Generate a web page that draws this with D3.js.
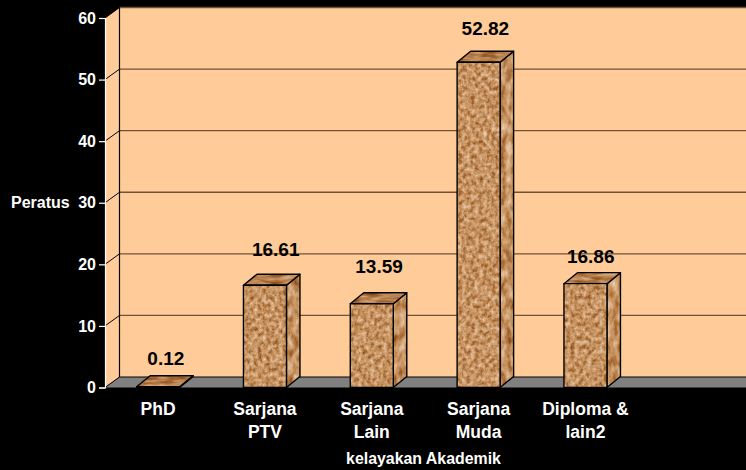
<!DOCTYPE html>
<html>
<head>
<meta charset="utf-8">
<script src="https://cdn.jsdelivr.net/npm/d3@7"></script>
<style>
  html, body { margin: 0; padding: 0; background: #000; overflow: hidden; }
  text { font-family: "Liberation Sans", Arial, sans-serif; font-weight: bold; }
</style>
</head>
<body>
<svg id="chart" width="746" height="470"></svg>
<script>
// values
var categories = ["PhD", "Sarjana PTV", "Sarjana Lain", "Sarjana Muda", "Diploma & lain2", ""];
var categoryLines = [["PhD"], ["Sarjana", "PTV"], ["Sarjana", "Lain"], ["Sarjana", "Muda"], ["Diploma &", "lain2"]];
var values = [0.12, 16.61, 13.59, 52.82, 16.86];
var valueLabels = ["0.12", "16.61", "13.59", "52.82", "16.86"];
var yTicks = [0, 10, 20, 30, 40, 50, 60];

var width = 746, height = 470;
var left = 105, right = 746, zero = 387.5, top60 = 18;
var wallDx = 14.5, wallDy = -10.5;   // how far the back wall sits behind the front
var barDx = 13.5, barDy = -11;
var barW = 43;

var svg = d3.select("#chart");

var x = d3.scaleBand().domain(categories).range([left - 0.3, right - 0.3]);
var y = d3.scaleLinear().domain([0, 60]).range([zero, top60]);

var line = d3.line();
function poly(pts) { return line(pts) + "Z"; }

// speckled cork look for the bars
var defs = svg.append("defs");
function corkFilter(id, freq, seed, r, g, b) {
  var f = defs.append("filter").attr("id", id)
    .attr("x", 0).attr("y", 0).attr("width", 1).attr("height", 1)
    .attr("color-interpolation-filters", "sRGB");
  f.append("feTurbulence").attr("type", "fractalNoise")
    .attr("baseFrequency", freq).attr("numOctaves", 3).attr("seed", seed).attr("result", "n");
  f.append("feColorMatrix").attr("in", "n").attr("type", "matrix")
    .attr("values", "1 0 0 0 0  1 0 0 0 0  1 0 0 0 0  0 0 0 0 1").attr("result", "g");
  var t = f.append("feComponentTransfer").attr("in", "g").attr("result", "c");
  t.append("feFuncR").attr("type", "table").attr("tableValues", r);
  t.append("feFuncG").attr("type", "table").attr("tableValues", g);
  t.append("feFuncB").attr("type", "table").attr("tableValues", b);
  f.append("feComposite").attr("in", "c").attr("in2", "SourceAlpha").attr("operator", "in");
}
var corkR = "0.44 0.56 0.68 0.78 0.85 0.91 0.97",
    corkG = "0.24 0.33 0.45 0.58 0.68 0.78 0.88",
    corkB = "0.08 0.14 0.24 0.38 0.52 0.66 0.78";
corkFilter("corkFront", "0.24 0.22", 4, corkR, corkG, corkB);
corkFilter("corkSide", "0.16 0.09", 9, corkR, corkG, corkB);
corkFilter("corkTop", "0.06 0.26", 15, "0.40 0.50 0.62 0.72 0.80 0.86 0.92", "0.22 0.28 0.38 0.50 0.60 0.70 0.80", "0.06 0.10 0.18 0.30 0.42 0.54 0.66");

// walls and floor
var wallTop = y(60) + wallDy, wallBottom = zero + wallDy;
svg.append("rect").attr("x", left + wallDx).attr("y", wallTop)
  .attr("width", right - left - wallDx).attr("height", wallBottom - wallTop).attr("fill", "#ffcc99");
svg.append("path")
  .attr("d", poly([[left, y(60)], [left + wallDx, wallTop], [left + wallDx, wallBottom], [left, zero]]))
  .attr("fill", "#ffcc99");
svg.append("path")
  .attr("d", poly([[left, zero], [left + wallDx, wallBottom], [right, wallBottom], [right, zero]]))
  .attr("fill", "#808080");

// gridlines, back wall and side wall
yTicks.forEach(function(t) {
  var yy = y(t);
  svg.append("line")
    .attr("x1", left + wallDx).attr("x2", right)
    .attr("y1", yy + wallDy).attr("y2", yy + wallDy)
    .attr("stroke", t == 0 ? "#000" : "#6e5338").attr("stroke-width", t == 0 ? 1.2 : 1.3);
  svg.append("line")
    .attr("x1", left).attr("x2", left + wallDx)
    .attr("y1", yy).attr("y2", yy + wallDy)
    .attr("stroke", "#000").attr("stroke-width", 1);
});
svg.append("line")
  .attr("x1", left + wallDx).attr("x2", left + wallDx)
  .attr("y1", wallTop).attr("y2", wallBottom)
  .attr("stroke", "#000").attr("stroke-width", 1.2);

// bars
var bars = svg.selectAll("g.bar").data(values).enter().append("g").attr("class", "bar");
function barBox(d, i) {
  var x0 = x(categories[i]) + (x.bandwidth() - barW) / 2;
  return { x0: x0, x1: x0 + barW, top: y(d), bottom: zero };
}
function frontFace(d, i) {
  var b = barBox(d, i);
  return poly([[b.x0, b.top], [b.x1, b.top], [b.x1, b.bottom], [b.x0, b.bottom]]);
}
function sideFace(d, i) {
  var b = barBox(d, i);
  return poly([[b.x1, b.top], [b.x1 + barDx, b.top + barDy], [b.x1 + barDx, b.bottom + barDy], [b.x1, b.bottom]]);
}
function topFace(d, i) {
  var b = barBox(d, i);
  return poly([[b.x0, b.top], [b.x0 + barDx, b.top + barDy], [b.x1 + barDx, b.top + barDy], [b.x1, b.top]]);
}
[["corkSide", sideFace], ["corkTop", topFace], ["corkFront", frontFace]].forEach(function(face) {
  bars.append("path").attr("d", face[1]).attr("fill", "#000").attr("filter", "url(#" + face[0] + ")");
  bars.append("path").attr("d", face[1]).attr("fill", "none")
    .attr("stroke", "#000").attr("stroke-width", 1.4).attr("stroke-linejoin", "round");
});

// y axis
var yAxis = d3.axisLeft(y).tickValues(yTicks).tickSize(6).tickPadding(3);
var yG = svg.append("g").attr("transform", "translate(" + left + ",0)").call(yAxis);
yG.selectAll(".domain").attr("stroke", "#fff").attr("stroke-width", 1.2);
yG.selectAll("line").attr("stroke", "#fff").attr("stroke-width", 1.2);
yG.selectAll("text").attr("fill", "#fff").style("font-size", "16px")
  .style("font-family", '"Liberation Sans", Arial, sans-serif').style("font-weight", "bold");

// category labels
categoryLines.forEach(function(lines, i) {
  var t = svg.append("text")
    .attr("x", x(categories[i]) + x.bandwidth() / 2)
    .attr("y", 415)
    .attr("text-anchor", "middle").attr("fill", "#fff").style("font-size", "17.5px");
  lines.forEach(function(s, j) {
    t.append("tspan").attr("x", t.attr("x")).attr("dy", j ? 23 : 0).text(s);
  });
});

// value labels: hand placed in the original, so a lift and a shift per bar
var labelLift = [22, 29, 31, 27, 21];
var labelShift = [1, 4, 0.5, 0, -1.5];
svg.selectAll("text.val").data(values).enter().append("text").attr("class", "val")
  .attr("x", function(d, i) { return x(categories[i]) + x.bandwidth() / 2 + barDx / 2 + labelShift[i]; })
  .attr("y", function(d, i) { return y(d) - labelLift[i]; })
  .attr("text-anchor", "middle").attr("fill", "#000").style("font-size", "19px")
  .text(function(d, i) { return valueLabels[i]; });

// axis titles
svg.append("text").attr("x", 11).attr("y", 208).attr("fill", "#fff").style("font-size", "16px").text("Peratus");
svg.append("text").attr("x", 423.5).attr("y", 464).attr("text-anchor", "middle")
  .attr("fill", "#fff").style("font-size", "15.9px").text("kelayakan Akademik");
</script>
</body>
</html>
